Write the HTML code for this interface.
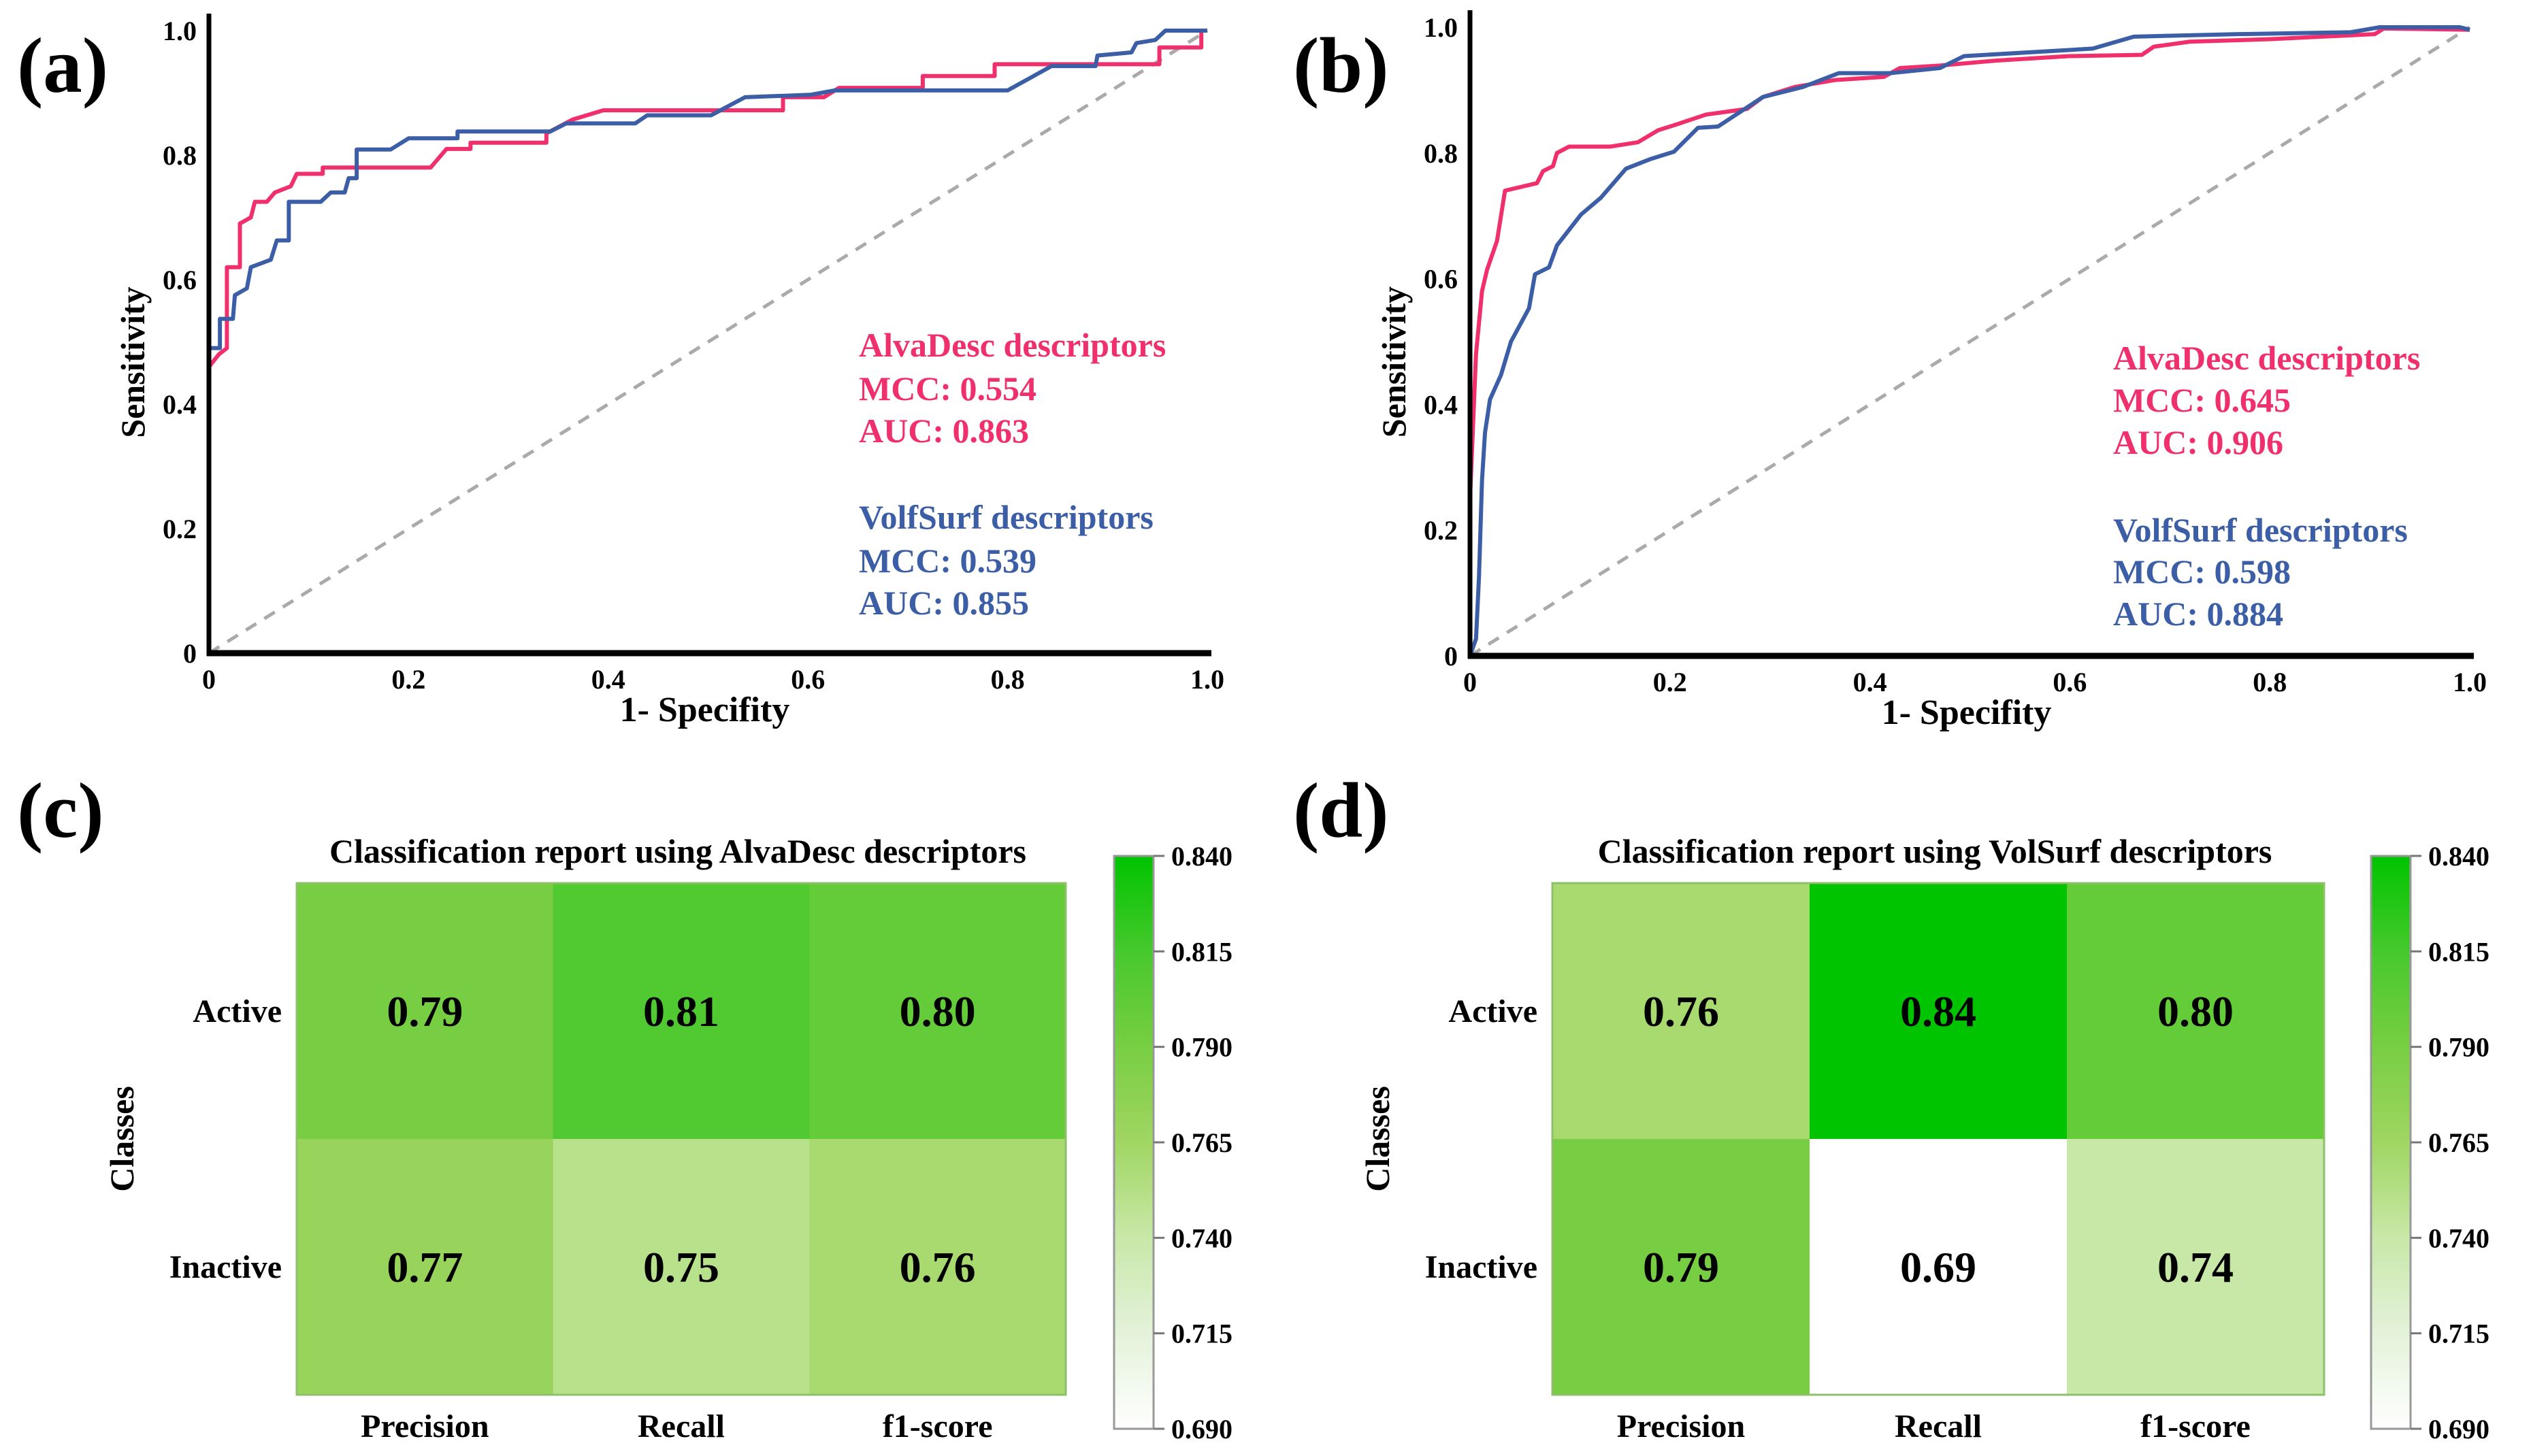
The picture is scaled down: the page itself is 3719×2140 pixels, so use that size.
<!DOCTYPE html>
<html><head><meta charset="utf-8"><style>
html,body{margin:0;padding:0;background:#fff;}
svg{display:block;}
text{font-family:"Liberation Serif",serif;font-weight:bold;}
</style></head><body>
<svg id="fig" width="3719" height="2140" viewBox="0 0 3719 2140" xmlns="http://www.w3.org/2000/svg">
<rect x="0" y="0" width="3719" height="2140" fill="#fff"/>
<text x="25" y="135" font-size="115">(a)</text>
<text x="1900" y="135" font-size="115">(b)</text>
<text x="25" y="1230" font-size="115">(c)</text>
<text x="1900" y="1230" font-size="115">(d)</text>
</svg>
<script>
// ---- ROC data (panel a) ----
const aPinkX=[0,0,0.01,0.018,0.018,0.031,0.031,0.042,0.046,0.058,0.066,0.082,0.088,0.114,0.114,0.222,0.238,0.262,0.262,0.338,0.338,0.364,0.395,0.575,0.575,0.616,0.631,0.715,0.715,0.787,0.787,0.952,0.952,0.994,0.994,1.0];
const aPinkY=[0,0.46,0.48,0.49,0.62,0.62,0.69,0.70,0.725,0.725,0.74,0.75,0.77,0.77,0.78,0.78,0.81,0.81,0.82,0.82,0.835,0.857,0.872,0.872,0.893,0.893,0.908,0.908,0.927,0.927,0.946,0.946,0.973,0.973,1.0,1.0];
const aBlueX=[0,0,0.011,0.011,0.024,0.026,0.038,0.042,0.062,0.068,0.080,0.080,0.112,0.122,0.136,0.140,0.148,0.148,0.182,0.20,0.249,0.249,0.342,0.358,0.427,0.439,0.503,0.537,0.603,0.627,0.80,0.844,0.888,0.890,0.924,0.929,0.948,0.958,1.0];
const aBlueY=[0,0.49,0.49,0.537,0.537,0.575,0.586,0.62,0.632,0.663,0.663,0.725,0.725,0.74,0.74,0.763,0.763,0.809,0.809,0.827,0.827,0.838,0.838,0.851,0.851,0.864,0.864,0.893,0.897,0.904,0.904,0.943,0.943,0.96,0.965,0.98,0.985,1.0,1.0];
// ---- ROC data (panel b) ----
const bPinkX=[0,0,0.006,0.012,0.017,0.027,0.035,0.067,0.073,0.083,0.087,0.099,0.14,0.168,0.188,0.204,0.236,0.277,0.293,0.325,0.365,0.414,0.43,0.47,0.527,0.599,0.672,0.684,0.72,0.801,0.905,0.914,1.0];
const bPinkY=[0,0.25,0.48,0.58,0.614,0.66,0.74,0.752,0.771,0.779,0.80,0.81,0.81,0.817,0.836,0.844,0.861,0.87,0.889,0.905,0.916,0.921,0.935,0.939,0.947,0.954,0.956,0.969,0.977,0.981,0.989,0.998,0.996];
const bBlueX=[0,0.006,0.009,0.012,0.015,0.02,0.031,0.041,0.059,0.065,0.079,0.087,0.111,0.131,0.156,0.18,0.204,0.228,0.248,0.293,0.333,0.369,0.421,0.47,0.494,0.623,0.664,0.769,0.881,0.91,0.99,1.0];
const bBlueY=[0,0.027,0.126,0.279,0.355,0.408,0.447,0.5,0.553,0.607,0.618,0.653,0.702,0.729,0.775,0.79,0.802,0.84,0.842,0.889,0.905,0.927,0.927,0.935,0.954,0.966,0.985,0.989,0.992,1.0,1.0,0.996];
const rocTicks=[0,0.2,0.4,0.6,0.8,1.0];
const rocTickLabels=["0","0.2","0.4","0.6","0.8","1.0"];
// ---- heatmap data ----
const hmCols=["Precision","Recall","f1-score"];
const hmRows=["Active","Inactive"];
const cValues=[[0.79,0.81,0.80],[0.77,0.75,0.76]];
const dValues=[[0.76,0.84,0.80],[0.79,0.69,0.74]];
const cbTicks=[0.840,0.815,0.790,0.765,0.740,0.715,0.690];
const cbMin=0.69, cbMax=0.84;

const NS="http://www.w3.org/2000/svg";
const svg=document.getElementById('fig');
function mk(tag,attrs,parent){const e=document.createElementNS(NS,tag);for(const k in attrs)e.setAttribute(k,attrs[k]);(parent||svg).appendChild(e);return e;}

function rocPanel(cfg){
  const g=mk('g',{});
  
  
  const sx=v=>cfg.x0+v*(cfg.x1-cfg.x0);
  const sy=v=>cfg.y0-v*(cfg.y0-cfg.y1);
  const diag=mk('line',{x1:sx(0),y1:sy(0),x2:sx(1),y2:sy(1),stroke:'#aaaaaa','stroke-width':5,'stroke-dasharray':'18,14'},g);
  
  
  const series=[[cfg.px,cfg.py,'#f0306c','alvadesc-roc-curve'],[cfg.bx,cfg.by,'#3c5ea6','volsurf-roc-curve']];
  series.forEach(s=>{
    const pts=s[0].map((x,i)=>sx(x)+','+sy(s[1][i])).join(' ');
    const pl=mk('polyline',{points:pts,fill:'none',stroke:s[2],'stroke-width':6,'stroke-linejoin':'round'},g);
    
    
  });
  const ya=mk('line',{x1:cfg.x0,y1:cfg.y0+4,x2:cfg.x0,y2:cfg.y1-25,stroke:'#000','stroke-width':7},g);
  
  
  const xa=mk('line',{x1:cfg.x0-3,y1:cfg.y0,x2:cfg.x1+6,y2:cfg.y0,stroke:'#000','stroke-width':9},g);
  
  
  rocTicks.forEach((t,i)=>{
    const xl=mk('text',{x:sx(t),y:cfg.y0+52,'font-size':40,'text-anchor':'middle'},g);
    xl.textContent=rocTickLabels[i];
    
    
    const yl=mk('text',{x:cfg.x0-18,y:sy(t)+14,'font-size':40,'text-anchor':'end'},g);
    yl.textContent=rocTickLabels[i];
    
    
  });
  const xt=mk('text',{x:(cfg.x0+cfg.x1)/2-5,y:cfg.y0+100,'font-size':52,'text-anchor':'middle'},g);
  xt.textContent='1- Specifity';
  
  
  const yt=mk('text',{x:0,y:0,'font-size':50,'text-anchor':'middle',transform:`translate(${cfg.x0-95},${(cfg.y0+cfg.y1)/2+30}) rotate(-90)`},g);
  yt.textContent='Sensitivity';
  
  
  cfg.legend.forEach((l,i)=>{
    const t=mk('text',{x:cfg.lx,y:cfg.ly[i],'font-size':50,fill:i<3?'#f0306c':'#3c5ea6'},g);
    t.textContent=l;
    
    
  });
}
rocPanel({name:'roc-panel-a',x0:307,x1:1774,y0:960,y1:45,px:aPinkX,py:aPinkY,bx:aBlueX,by:aBlueY,
  lx:1262,ly:[524,588,650,777,841,903],
  legend:['AlvaDesc descriptors','MCC: 0.554','AUC: 0.863','VolfSurf descriptors','MCC: 0.539','AUC: 0.855']});
rocPanel({name:'roc-panel-b',x0:2160,x1:3629,y0:964,y1:40,px:bPinkX,py:bPinkY,bx:bBlueX,by:bBlueY,
  lx:3105,ly:[543,605,667,796,857,919],
  legend:['AlvaDesc descriptors','MCC: 0.645','AUC: 0.906','VolfSurf descriptors','MCC: 0.598','AUC: 0.884']});

const cmStops=[[0.69,[255,255,255]],[0.715,[228,242,218]],[0.74,[200,232,168]],[0.765,[160,214,98]],[0.79,[120,206,66]],[0.815,[70,201,44]],[0.84,[0,196,0]]];
function cmap(v){
  if(v<=cmStops[0][0])return 'rgb(255,255,255)';
  for(let i=1;i<cmStops.length;i++){
    if(v<=cmStops[i][0]+1e-9){
      const a=cmStops[i-1],b=cmStops[i],t=(v-a[0])/(b[0]-a[0]);
      return 'rgb('+a[1].map((c,k)=>Math.round(c+(b[1][k]-c)*t)).join(',')+')';
    }
  }
  return 'rgb(0,196,0)';
}
let gradCount=0;
function heatPanel(cfg){
  const g=mk('g',{});
  
  
  const cw=(cfg.x1-cfg.x0)/hmCols.length, ch=(cfg.y1-cfg.y0)/hmRows.length;
  cfg.values.forEach((row,r)=>row.forEach((v,c)=>{
    const rc=mk('rect',{x:cfg.x0+c*cw,y:cfg.y0+r*ch,width:cw+0.5,height:ch+0.5,fill:cmap(v)},g);
    
    
    const t=mk('text',{x:cfg.x0+(c+0.5)*cw,y:cfg.y0+(r+0.5)*ch+22,'font-size':64,'text-anchor':'middle'},g);
    t.textContent=v.toFixed(2);
    
    
  }));
  const bd=mk('rect',{x:cfg.x0,y:cfg.y0,width:cfg.x1-cfg.x0,height:cfg.y1-cfg.y0,fill:'none',stroke:'#8fbf6a','stroke-width':3},g);
  
  
  hmCols.forEach((c,i)=>{
    const t=mk('text',{x:cfg.x0+(i+0.5)*cw,y:2112,'font-size':48,'text-anchor':'middle'},g);
    t.textContent=c;
    
    
  });
  hmRows.forEach((rn,i)=>{
    const t=mk('text',{x:cfg.x0-22,y:cfg.y0+(i+0.5)*ch+16,'font-size':48,'text-anchor':'end'},g);
    t.textContent=rn;
    
    
  });
  const yt=mk('text',{x:0,y:0,'font-size':50,'text-anchor':'middle',transform:`translate(${cfg.x0-240},${(cfg.y0+cfg.y1)/2}) rotate(-90)`},g);
  yt.textContent='Classes';
  
  
  const tt=mk('text',{x:(cfg.x0+cfg.x1)/2-5,y:1268,'font-size':50,'text-anchor':'middle'},g);
  tt.textContent=cfg.title;
  
  
  const gid='cbgrad'+(gradCount++);
  const defs=mk('defs',{},g);
  const lg=mk('linearGradient',{id:gid,x1:0,y1:1,x2:0,y2:0},defs);
  cmStops.forEach(s=>mk('stop',{offset:(s[0]-cbMin)/(cbMax-cbMin),'stop-color':cmap(s[0])},lg));
  const cbTop=1258, cbBot=2100;
  const cb=mk('rect',{x:cfg.cbx,y:cbTop,width:58,height:cbBot-cbTop,fill:`url(#${gid})`,stroke:'#999','stroke-width':3},g);
  
  
  const cy=v=>cbBot-(v-cbMin)/(cbMax-cbMin)*(cbBot-cbTop);
  cbTicks.forEach(v=>{
    const tk=mk('line',{x1:cfg.cbx+58,y1:cy(v),x2:cfg.cbx+74,y2:cy(v),stroke:'#777','stroke-width':3},g);
    
    
    const t=mk('text',{x:cfg.cbx+84,y:cy(v)+14,'font-size':40,'font-weight':'normal'},g);
    t.textContent=v.toFixed(3);
    
    
  });
}
heatPanel({name:'heatmap-c',x0:436,x1:1566,y0:1298,y1:2050,values:cValues,cbx:1637,title:'Classification report using AlvaDesc descriptors'});
heatPanel({name:'heatmap-d',x0:2281,x1:3415,y0:1298,y1:2050,values:dValues,cbx:3484,title:'Classification report using VolSurf descriptors'});
</script>
</body></html>
